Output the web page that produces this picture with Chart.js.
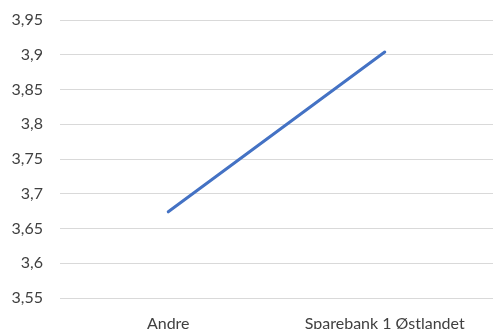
<!DOCTYPE html>
<html>
<head>
<meta charset="utf-8">
<script src="https://cdn.jsdelivr.net/npm/chart.js@4/dist/chart.umd.min.js"></script>
<style>
  html, body { margin: 0; padding: 0; background: #fff; }
  canvas { display: block; }
</style>
</head>
<body>
<canvas id="chart" width="494" height="329"></canvas>
<script>
const categories = ["Andre", "Sparebank 1 Østlandet"]
const values = [3.674, 3.904]
const yTicks = [3.55, 3.6, 3.65, 3.7, 3.75, 3.8, 3.85, 3.9, 3.95]

const fmt = (v) => v.toFixed(2).replace(/0$/, "").replace(".", ",")

new Chart(document.getElementById("chart").getContext("2d"), {
  type: "line",
  data: {
    labels: categories,
    datasets: [{
      data: values,
      borderColor: "#4472C4",
      borderWidth: 3,
      pointRadius: 0,
      tension: 0,
      borderCapStyle: "round"
    }]
  },
  options: {
    responsive: false,
    animation: false,
    layout: { padding: { top: 0, right: 1, left: 0, bottom: 0 } },
    plugins: { legend: { display: false }, tooltip: { enabled: false } },
    scales: {
      x: {
        offset: true,
        grid: { display: false },
        border: { display: false },
        ticks: { color: "#404040", font: { family: "Lato", size: 16 }, padding: 8, maxRotation: 0, autoSkip: false },
        afterFit: (axis) => { axis.height = 31 }
      },
      y: {
        min: 3.55,
        max: 3.95,
        afterBuildTicks: (axis) => { axis.ticks = yTicks.map((v) => ({ value: v })) },
        grid: { color: "#d9d9d9", lineWidth: 1, drawTicks: false },
        border: { display: false },
        ticks: { color: "#404040", font: { family: "Lato", size: 16 }, padding: 17, callback: (v) => fmt(v) },
        afterFit: (axis) => { axis.width = 60; axis.paddingTop = 20 }
      }
    }
  }
})
</script>
</body>
</html>
